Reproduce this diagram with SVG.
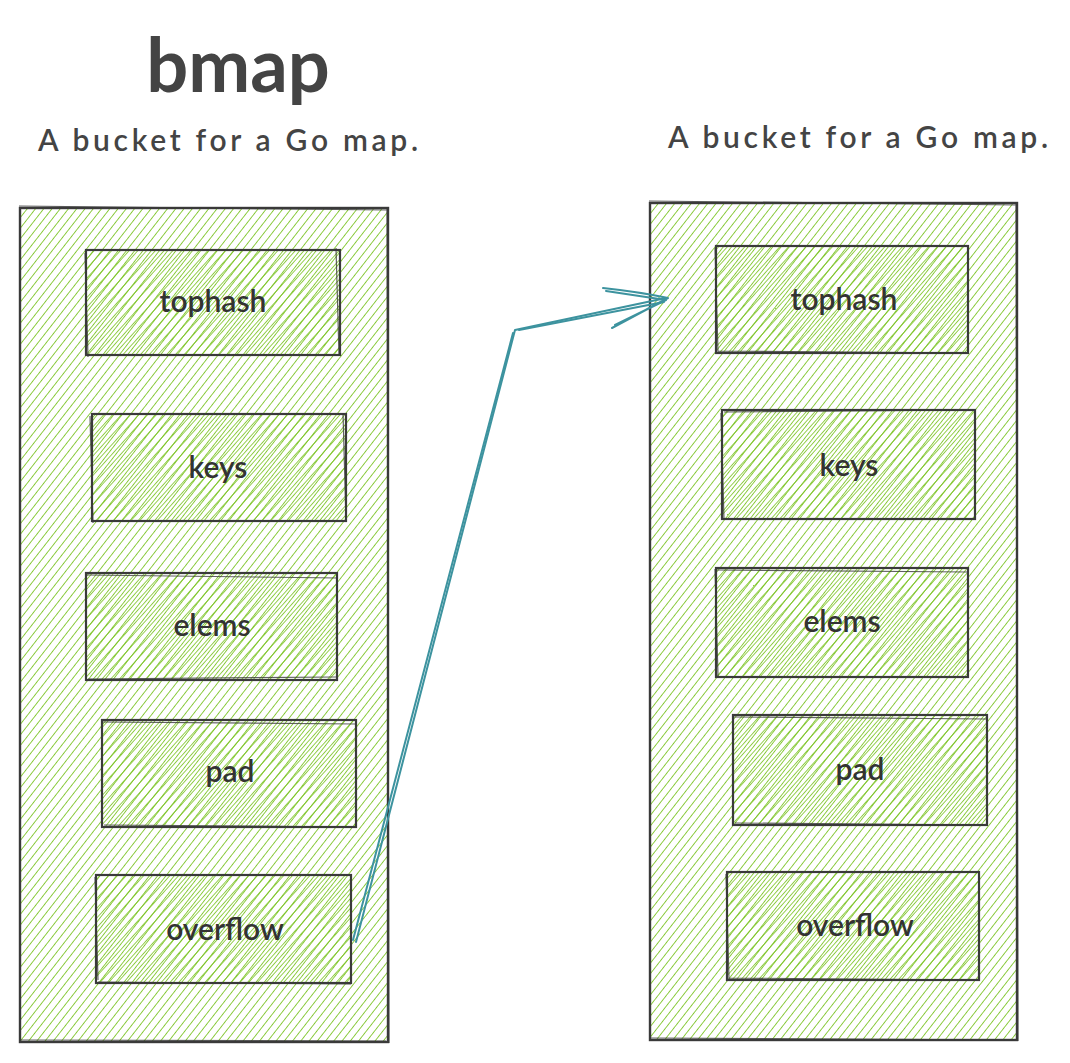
<svg xmlns="http://www.w3.org/2000/svg" width="1070" height="1063" viewBox="0 0 1070 1063">
<defs>
<pattern id="hatch" patternUnits="userSpaceOnUse" width="6.5" height="7" patternTransform="rotate(38)">
<line x1="0" y1="-1" x2="0" y2="8" stroke="#7cc425" stroke-width="1.7"/>
</pattern>
<pattern id="hatch2" patternUnits="userSpaceOnUse" width="6.5" height="7" patternTransform="rotate(42) translate(3.2 0)">
<line x1="0" y1="-1" x2="0" y2="8" stroke="#7cc425" stroke-width="1.6"/>
</pattern>
</defs>
<style>
.outer{fill:url(#hatch);stroke:#3a3a3a;stroke-width:2.4}
.inner{fill:url(#hatch2);stroke:#3a3a3a;stroke-width:2.2}
.sk{fill:none;stroke:#3a3a3a;stroke-width:1.2;opacity:0.8}
.lbl{font-family:Lato,"Noto Sans",sans-serif;font-size:30px;font-weight:600;fill:#333;text-anchor:middle}
.sub{font-family:Lato,"Noto Sans",sans-serif;font-size:30px;font-weight:600;fill:#444}
.title{font-family:Lato,"Noto Sans",sans-serif;font-size:74px;font-weight:bold;fill:#444;text-anchor:middle}
.conn{fill:none;stroke:#3d939f;stroke-width:2;stroke-linecap:round;stroke-linejoin:round}
</style>
<rect width="1070" height="1063" fill="#ffffff"/>
<g id="title"><text class="title" x="238" y="92">bmap</text></g>
<g id="subtitle-left"><text class="sub" x="38" y="151" textLength="380" lengthAdjust="spacing">A bucket for a Go map.</text></g>
<g id="subtitle-right"><text class="sub" x="668" y="148" textLength="380" lengthAdjust="spacing">A bucket for a Go map.</text></g>

<g id="bucket-left">
<rect class="outer" x="20" y="208" width="368" height="834"/>
<path class="sk" d="M19,206 L389,210 M387,207 L389,1043 M386,1041 L21,1040"/>
</g>
<g id="bucket-right">
<rect class="outer" x="650" y="203" width="367" height="837"/>
<path class="sk" d="M649,201 L1018,205 M1016,202 L1018,1041 M1015,1040 L651,1038"/>
</g>

<g id="left-tophash"><rect class="inner" x="86" y="250" width="254" height="105"/><path class="sk" d="M85,253 L88,357 M336,248 L339,355"/><text class="lbl" x="213" y="312">tophash</text></g>
<g id="left-keys"><rect class="inner" x="92" y="414" width="254" height="107"/><path class="sk" d="M90,416 L93,523 M343,413 L346,520"/><text class="lbl" x="218" y="478">keys</text></g>
<g id="left-elems"><rect class="inner" x="86" y="573" width="251" height="107"/><path class="sk" d="M87,575 L338,578 M88,679 L336,677"/><text class="lbl" x="212" y="636">elems</text></g>
<g id="left-pad"><rect class="inner" x="102" y="720" width="254" height="107"/><path class="sk" d="M101,722 L356,724 M104,825 L353,827"/><text class="lbl" x="230" y="782">pad</text></g>
<g id="left-overflow"><rect class="inner" x="96" y="875" width="255" height="108"/><path class="sk" d="M95,877 L98,980 M98,982 L351,984"/><text class="lbl" x="225" y="940">overflow</text></g>

<g id="right-tophash"><rect class="inner" x="716" y="246" width="252" height="107"/><path class="sk" d="M715,248 L718,352 M718,351 L967,353"/><text class="lbl" x="844" y="310">tophash</text></g>
<g id="right-keys"><rect class="inner" x="722" y="410" width="253" height="109"/><path class="sk" d="M721,413 L724,520 M724,412 L974,410"/><text class="lbl" x="849" y="476">keys</text></g>
<g id="right-elems"><rect class="inner" x="716" y="568" width="252" height="109"/><path class="sk" d="M717,570 L967,572 M715,569 L718,676"/><text class="lbl" x="842" y="632">elems</text></g>
<g id="right-pad"><rect class="inner" x="733" y="715" width="254" height="110"/><path class="sk" d="M734,717 L986,719 M735,823 L984,825"/><text class="lbl" x="860" y="780">pad</text></g>
<g id="right-overflow"><rect class="inner" x="727" y="872" width="252" height="108"/><path class="sk" d="M726,874 L729,979 M729,978 L978,980"/><text class="lbl" x="855" y="936">overflow</text></g>

<g id="connectors">
<path class="conn" d="M356,942 L515,330 L666,298"/>
<path class="conn" d="M353,940 L513,333 M519,330 L664,302" stroke-width="1.3"/>
<path class="conn" d="M603,288 Q640,292 668,298 L612,328 M606,291 L666,300 M666,300 L615,325"/>
</g>
</svg>
